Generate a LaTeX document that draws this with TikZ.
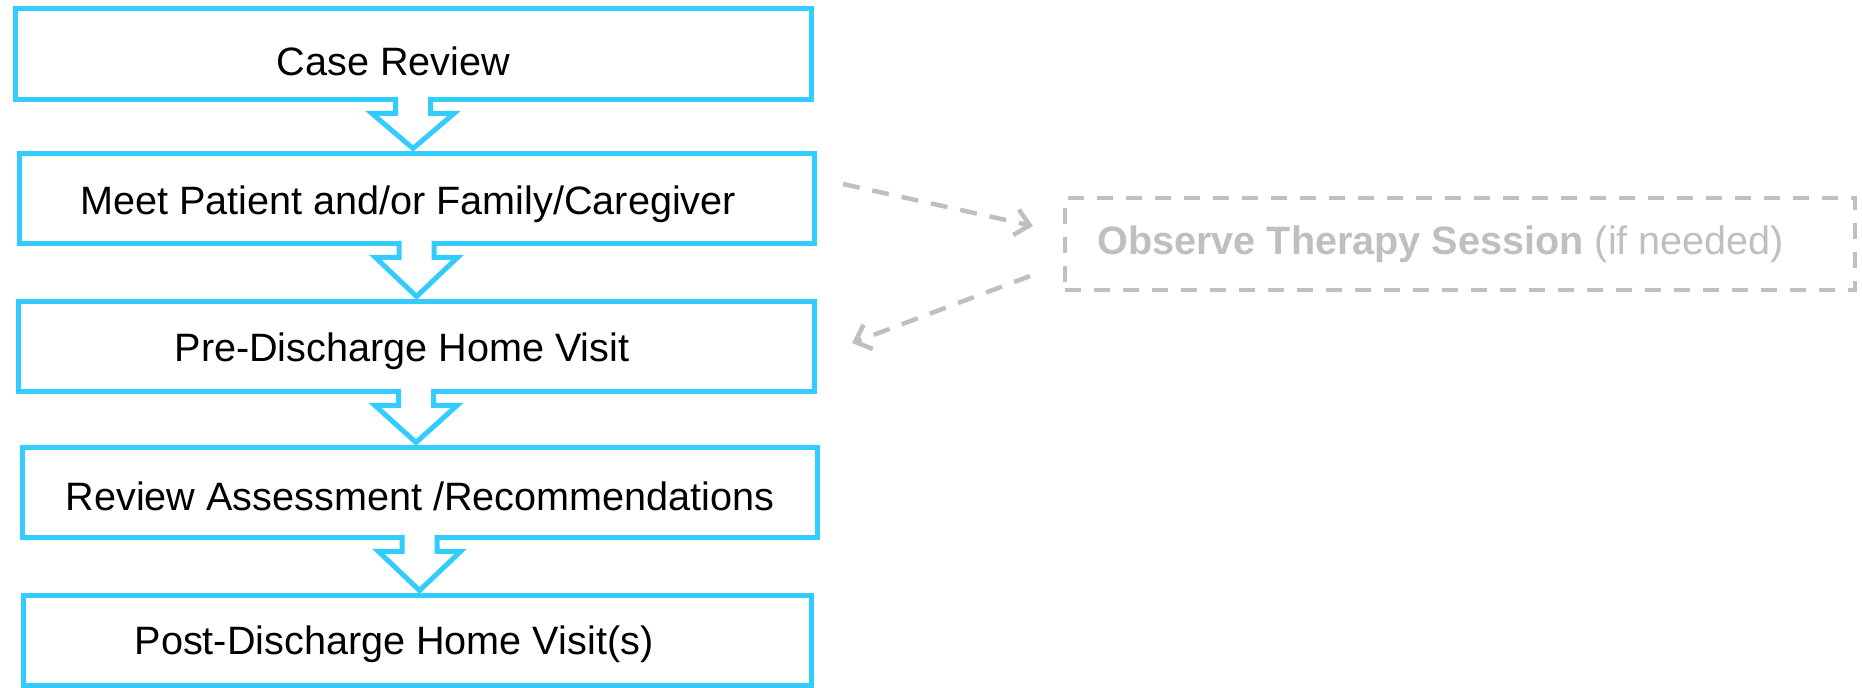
\documentclass[tikz,border=0pt]{standalone}
\usepackage{fontspec}
\setmainfont{Liberation Sans}
\usetikzlibrary{arrows.meta,calc}
\definecolor{cyanline}{HTML}{33CCFF}
\definecolor{greyline}{HTML}{BFBFBF}
\newcommand\mkblockarrow[2]{%
  \filldraw[blockarrow] let \p1=(#1.south), \p2=(#2.north) in
    (\x1-8.75pt,\y1+1.5pt) -- (\x1-8.75pt,\y1-6.75pt) -- (\x1-20.5pt,\y1-6.75pt)
    -- (\x1,\y2+2.75pt) -- (\x1+20.5pt,\y1-6.75pt) -- (\x1+8.75pt,\y1-6.75pt)
    -- (\x1+8.75pt,\y1+1.5pt);}
\begin{document}
\begin{tikzpicture}[x=0.5pt,y=-0.5pt,
  stepbox/.style={draw=cyanline, line width=2.5pt, rectangle, inner sep=0pt, outer sep=0pt},
  steptext/.style={anchor=base, inner sep=0pt, font=\fontsize{19.8}{23}\selectfont, text=black},
  blockarrow/.style={draw=cyanline, fill=white, line width=2.5pt, line join=miter},
  optbox/.style={draw=greyline, line width=2pt, dash pattern=on 8pt off 6.5pt, rectangle, inner sep=0pt, outer sep=0pt},
  opttext/.style={anchor=base west, inner sep=0pt, font=\fontsize{19.8}{23}\selectfont, text=greyline},
  optarrow/.style={draw=greyline, line width=2.25pt, dash pattern=on 8.5pt off 6.5pt, -{Straight Barb[length=7pt,width=13pt]}}]

\useasboundingbox (0,0) rectangle (1862,688);

% step boxes
\node[stepbox, minimum width=398pt, minimum height=45.5pt] (b1) at (413,54.5) {};
\node[stepbox, minimum width=397.5pt, minimum height=45pt] (b2) at (416.5,199) {};
\node[stepbox, minimum width=398pt, minimum height=45pt] (b3) at (416,347) {};
\node[stepbox, minimum width=397.5pt, minimum height=45pt] (b4) at (419.5,493) {};
\node[stepbox, minimum width=394pt, minimum height=44.5pt] (b5) at (417,640.5) {};

% step texts
\node[steptext] (t1) at (393.5,76) {Case Review};
\node[steptext] (t2) at (408,215) {Meet Patient and/or Family/Caregiver};
\node[steptext] (t3) at (402,362) {Pre-Discharge Home Visit};
\node[steptext] (t4) at (420,511) {Review Assessment /Recommendations};
\node[steptext] (t5) at (394,654) {Post-Discharge Home Visit(s)};

% block arrows
\mkblockarrow{b1}{b2}
\mkblockarrow{b2}{b3}
\mkblockarrow{b3}{b4}
\mkblockarrow{b4}{b5}

% optional step
\node[optbox, minimum width=395pt, minimum height=46pt] (g) at (1460,244) {};
\node[opttext] (gt) at (1097,255) {\textbf{Observe Therapy Session} (if needed)};

\coordinate (o1s) at (843,184);
\coordinate (o1e) at (1033,226);
\coordinate (o2s) at (1030,276);
\coordinate (o2e) at (852,343);
\draw[optarrow] (o1s) -- (o1e);
\draw[optarrow] (o2s) -- (o2e);
\end{tikzpicture}
\end{document}
